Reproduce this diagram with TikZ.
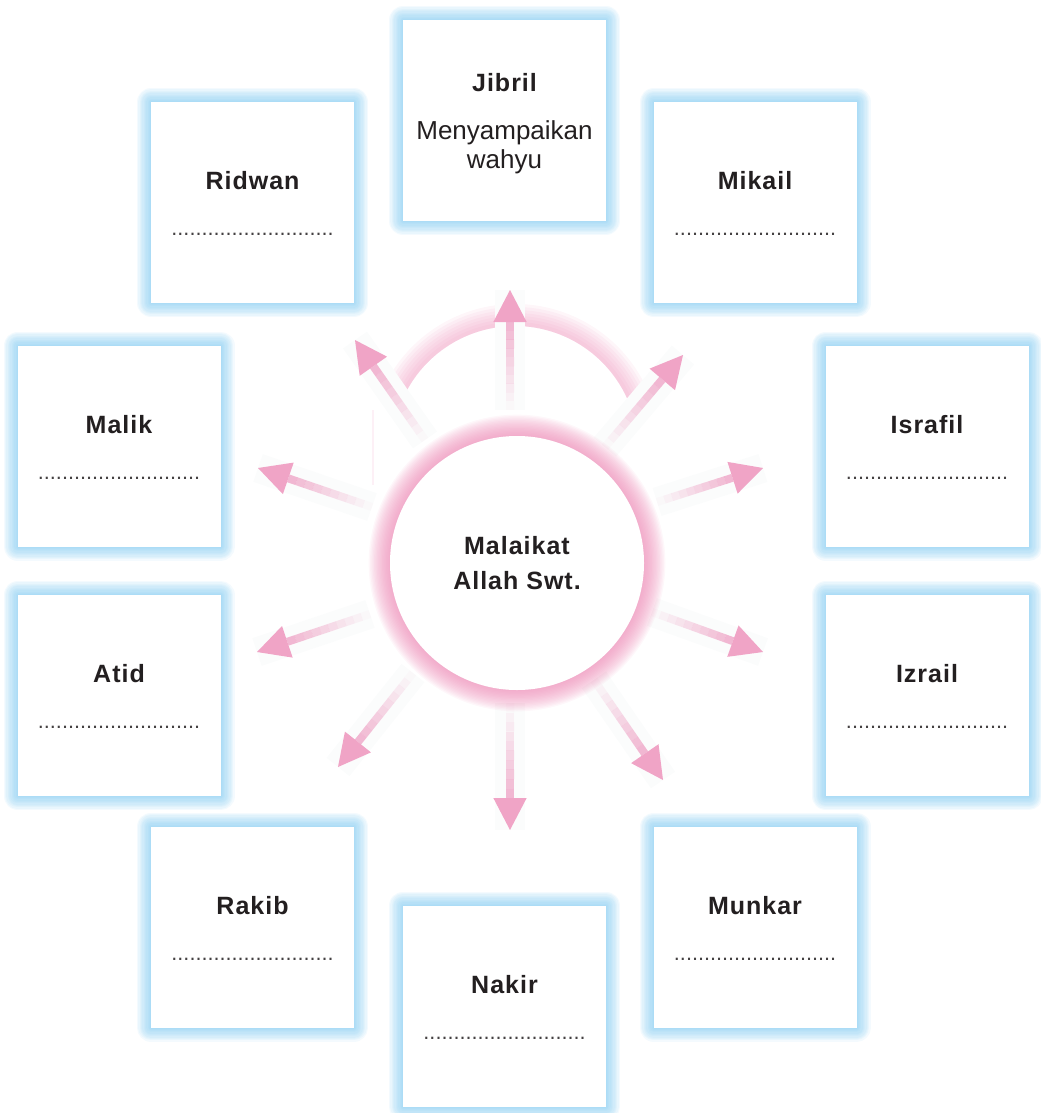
\documentclass[tikz,border=0pt]{standalone}
\usepackage{fontspec}
\setmainfont{Liberation Sans}
\usetikzlibrary{calc}
\definecolor{glowc}{HTML}{7CC8F0}
\definecolor{ringc}{HTML}{EC86B3}
\definecolor{shaftc}{HTML}{EC8DB8}
\definecolor{headc}{HTML}{F0A4C6}
\definecolor{txtc}{HTML}{231F20}
\definecolor{haloc}{HTML}{FBFCFC}
\newcommand\namefont{\fontsize{18.75}{24}\selectfont\bfseries\addfontfeatures{LetterSpace=4}}
\newcommand\descfont{\fontsize{19.5}{22}\selectfont}
\newcommand\dotsfont{\fontsize{16.2}{18}\selectfont}
\newcommand\dotrow{...........................}
\newcommand\radarrow[2]{%
  \coordinate (#2h) at ($(#2)!24pt!(#1)$);
  \draw[halo] (#1) -- (#2);
  \foreach \k [evaluate=\k as \fa using \k/10, evaluate=\k as \fb using (\k+1)/10, evaluate=\k as \qo using 0.03+\k*0.065] in {0,...,9}
    \draw[shaft, draw opacity=\qo] ($(#1)!\fa!(#2h)$) -- ($(#1)!\fb!(#2h)$);
  \fill[headc] (#2) -- ($(#2h)!12.5pt!90:(#2)$) -- ($(#2h)!12.5pt!-90:(#2)$) -- cycle;
}
\begin{document}
\begin{tikzpicture}[x=0.75pt,y=0.75pt,
  gl/.style={preaction={draw=glowc, line width=#1, draw opacity=.085, line join=round}},
  rl/.style={preaction={draw=ringc, line width=#1, draw opacity=.065}},
  box/.style={rectangle, fill=white, minimum width=152.25pt, minimum height=150.75pt, inner sep=0pt,
    gl=21pt, gl=19pt, gl=17pt, gl=15pt, gl=13pt, gl=11pt, gl=9pt, gl=7pt, gl=5pt, gl=3pt, gl=1.5pt},
  hub/.style={circle, fill=white, minimum size=190.5pt, inner sep=0pt, align=center,
    font=\namefont, text=txtc,
    rl=32pt, rl=30pt, rl=28pt, rl=26pt, rl=24pt, rl=22pt, rl=20pt, rl=18pt, rl=16pt,
    rl=14pt, rl=12pt, rl=10pt, rl=8pt, rl=6pt, rl=4pt, rl=2pt},
  nm/.style={anchor=base, inner sep=0pt, font=\namefont, text=txtc},
  desc/.style={anchor=base, inner sep=0pt, font=\descfont, text=txtc},
  dl/.style={anchor=base, inner sep=0pt, font=\dotsfont, text=txtc!85},
  halo/.style={draw=haloc, line width=22pt},
  shaft/.style={draw=shaftc, line width=6pt},
  band/.style={draw=ringc, draw opacity=.08}
]
\useasboundingbox (0,0) rectangle (1040,-1113);

% decorative arc band behind the upper arrows
\coordinate (arcc) at (515,-449);
\foreach \w in {22,19,16,13,10,7,4}
  \draw[band, line width=\w*0.75pt] ($(arcc)+(157:123+\w/2)$) arc[start angle=157, end angle=24, radius=123+\w/2];
\coordinate (fl1) at (373,-410);
\coordinate (fl2) at (373,-485);
\draw[ringc!12, line width=1.5pt] (fl1) -- (fl2);

% arrow end points
\coordinate (tA) at (510,-410); \coordinate (pA) at (510,-290);
\coordinate (tB) at (425,-440); \coordinate (pB) at (355,-340);
\coordinate (tC) at (605,-447); \coordinate (pC) at (683,-355);
\coordinate (tD) at (372,-507); \coordinate (pD) at (258,-468);
\coordinate (tE) at (657,-502); \coordinate (pE) at (763,-468);
\coordinate (tF) at (370,-614); \coordinate (pF) at (257,-652);
\coordinate (tG) at (652,-612); \coordinate (pG) at (763,-652);
\coordinate (tH) at (413,-673); \coordinate (pH) at (338,-767);
\coordinate (tI) at (594,-680); \coordinate (pI) at (663,-780);
\coordinate (tJ) at (510,-703); \coordinate (pJ) at (510,-830);

\radarrow{tA}{pA}
\radarrow{tB}{pB}
\radarrow{tC}{pC}
\radarrow{tD}{pD}
\radarrow{tE}{pE}
\radarrow{tF}{pF}
\radarrow{tG}{pG}
\radarrow{tH}{pH}
\radarrow{tI}{pI}
\radarrow{tJ}{pJ}

% central circle
\node[hub] (hub) at (517,-563) {Malaikat\\[2pt]Allah Swt.};

% boxes
\node[box] (jibril) at (504.5,-120.5) {};
\node[nm] (jibrilN) at ($(jibril)+(0,29.5)$) {Jibril};
\node[desc] (jibrilD1) at ($(jibril)+(0,-18.5)$) {Menyampaikan};
\node[desc] (jibrilD2) at ($(jibril)+(0,-47.5)$) {wahyu};

\node[box] (ridwan) at (252.5,-202.5) {};
\node[nm] (ridwanN) at ($(ridwan)+(0,13)$) {Ridwan};
\node[dl] (ridwanD) at ($(ridwan)+(0,-33)$) {\dotrow};

\node[box] (mikail) at (755,-202.5) {};
\node[nm] (mikailN) at ($(mikail)+(0,13)$) {Mikail};
\node[dl] (mikailD) at ($(mikail)+(0,-33)$) {\dotrow};

\node[box] (malik) at (119,-446) {};
\node[nm] (malikN) at ($(malik)+(0,13)$) {Malik};
\node[dl] (malikD) at ($(malik)+(0,-33)$) {\dotrow};

\node[box] (israfil) at (927,-446) {};
\node[nm] (israfilN) at ($(israfil)+(0,13)$) {Israfil};
\node[dl] (israfilD) at ($(israfil)+(0,-33)$) {\dotrow};

\node[box] (atid) at (119,-695.5) {};
\node[nm] (atidN) at ($(atid)+(0,13)$) {Atid};
\node[dl] (atidD) at ($(atid)+(0,-33)$) {\dotrow};

\node[box] (izrail) at (927,-695.5) {};
\node[nm] (izrailN) at ($(izrail)+(0,13)$) {Izrail};
\node[dl] (izrailD) at ($(izrail)+(0,-33)$) {\dotrow};

\node[box] (rakib) at (252.5,-927) {};
\node[nm] (rakibN) at ($(rakib)+(0,13)$) {Rakib};
\node[dl] (rakibD) at ($(rakib)+(0,-33)$) {\dotrow};

\node[box] (munkar) at (755,-927) {};
\node[nm] (munkarN) at ($(munkar)+(0,13)$) {Munkar};
\node[dl] (munkarD) at ($(munkar)+(0,-33)$) {\dotrow};

\node[box] (nakir) at (504.5,-1006) {};
\node[nm] (nakirN) at ($(nakir)+(0,13)$) {Nakir};
\node[dl] (nakirD) at ($(nakir)+(0,-33)$) {\dotrow};
\end{tikzpicture}
\end{document}
